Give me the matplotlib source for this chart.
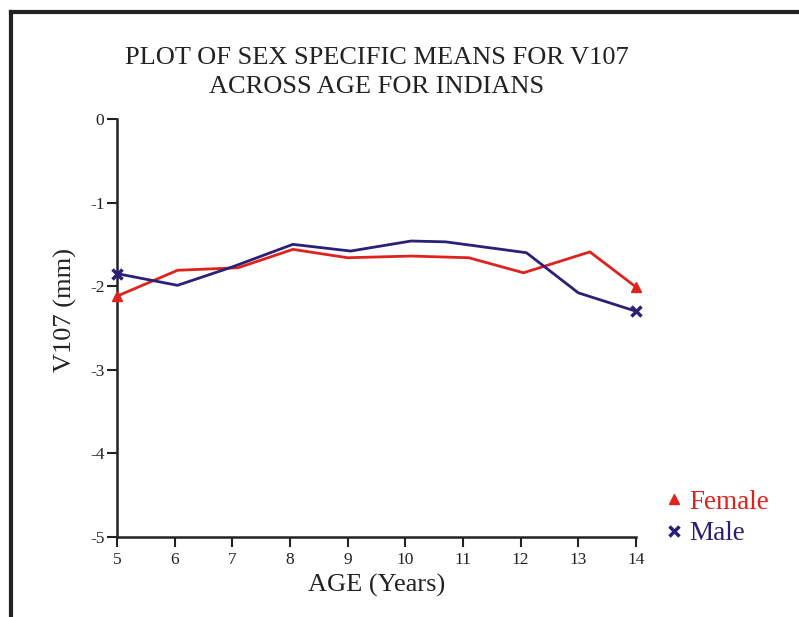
import matplotlib.pyplot as plt
from matplotlib.lines import Line2D

plt.rcParams['font.family'] = ['Liberation Serif', 'DejaVu Serif']

# mean values
female_age = [5.0, 6.05, 7.1, 8.05, 9.0, 10.1, 11.1, 12.05, 13.2, 14.0]
female_v107 = [-2.12, -1.81, -1.78, -1.56, -1.66, -1.64, -1.66, -1.84, -1.59, -2.01]

male_age = [5.0, 6.05, 7.0, 8.05, 9.05, 10.1, 10.7, 12.1, 13.0, 14.0]
male_v107 = [-1.85, -1.99, -1.77, -1.50, -1.58, -1.46, -1.47, -1.60, -2.08, -2.30]

x_ticks = [5, 6, 7, 8, 9, 10, 11, 12, 13, 14]
y_ticks = [0, -1, -2, -3, -4, -5]

red = '#e0221c'
navy = '#2a2078'

fig = plt.figure(figsize=(7.99, 6.17), dpi=100)
ax = fig.add_axes([0.1464, 0.1297, 0.6496, 0.6775])

ax.plot(female_age, female_v107, color=red, lw=2, marker='^', ms=7,
        markevery=[0, len(female_age) - 1], clip_on=False, zorder=3)
ax.plot(male_age, male_v107, color=navy, lw=2, marker='x', ms=7, mew=2.5,
        markevery=[0, len(male_age) - 1], clip_on=False, zorder=4)

ax.set_xlim(5, 14)
ax.set_ylim(-5, 0)
ax.set_xticks(x_ticks)
ax.set_yticks(y_ticks)
ax.set_yticklabels([str(t) for t in y_ticks])
ax.tick_params(direction='out', length=7, width=1.5, labelsize=12.5, colors='#222222')
ax.tick_params(axis='x', pad=4)
ax.tick_params(axis='y', pad=2)
for s in ['top', 'right']:
    ax.spines[s].set_visible(False)
for s in ['left', 'bottom']:
    ax.spines[s].set_linewidth(1.8)
    ax.spines[s].set_color('#222222')

ax.set_xlabel('AGE (Years)', fontsize=19, labelpad=4, color='#222222')
ax.set_ylabel('V107 (mm)', fontsize=19, color='#222222')
ax.yaxis.set_label_coords(-0.077, 0.543)
ax.set_title('PLOT OF SEX SPECIFIC MEANS FOR V107\nACROSS AGE FOR INDIANS',
             fontsize=19, pad=19, color='#222222', linespacing=1.38)

handles = [Line2D([], [], color=red, marker='^', ls='none', ms=7),
           Line2D([], [], color=navy, marker='x', ls='none', ms=7, mew=2.5)]
leg = fig.legend(handles, ['Female', 'Male'], loc='upper left',
                 bbox_to_anchor=(0.803, 0.246), frameon=False, fontsize=19.5,
                 handlelength=0.6, handletextpad=0.25, labelspacing=0.25,
                 labelcolor=[red, navy])

# frame lines around the page
fig.add_artist(Line2D([0.014, 1.0], [0.981, 0.981], color='#222222', lw=3))
fig.add_artist(Line2D([0.014, 0.014], [0.0, 0.981], color='#222222', lw=3))

fig.savefig('out.png', dpi=100)
